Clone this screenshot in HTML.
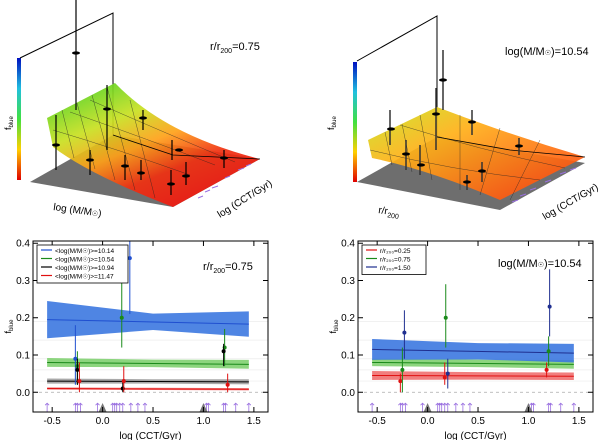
<!DOCTYPE html>
<html><head><meta charset="utf-8">
<style>
body{margin:0;background:#fff;font-family:"Liberation Sans",sans-serif}
svg{display:block}
text{font-family:"Liberation Sans",sans-serif;fill:#000}
</style></head><body>
<svg id="fig" width="600" height="440" viewBox="0 0 600 440">
<defs>
<linearGradient id="cbar" x1="0" y1="1" x2="0" y2="0">
<stop offset="0" stop-color="#e00000"/><stop offset="0.25" stop-color="#ffd000"/><stop offset="0.5" stop-color="#40e040"/><stop offset="0.75" stop-color="#20c0e0"/><stop offset="1" stop-color="#0010c0"/></linearGradient>
<linearGradient id="surf1" x1="0.1" y1="0" x2="0.8" y2="1">
<stop offset="0" stop-color="#40d020"/><stop offset="0.3" stop-color="#c8e020"/><stop offset="0.5" stop-color="#ffa018"/><stop offset="0.7" stop-color="#f03010"/><stop offset="1" stop-color="#f01010"/></linearGradient>
<linearGradient id="surf2" x1="0" y1="0" x2="0.9" y2="0.8">
<stop offset="0" stop-color="#c8e820"/><stop offset="0.4" stop-color="#ffb018"/><stop offset="1" stop-color="#ff5010"/></linearGradient>
</defs>

<!-- 3D panel left -->
<g>
<polygon points="30,182 113,135 260,159 173,207" fill="#6e6e6e"/>
<rect x="17" y="58" width="4" height="122" fill="url(#cbar)"/>
<polyline points="20,58 113,13 113,135" fill="none" stroke="#000" stroke-width="1"/>
<path d="M47,118 L115,83 Q165,135 260,159 L173,207 Q90,175 53,147 Z" fill="url(#surf1)" opacity="0.92"/>
<g stroke="#222" stroke-width="0.5" opacity="0.7">
<line x1="62" y1="110" x2="74" y2="158"/><line x1="77" y1="103" x2="95" y2="169"/><line x1="92" y1="95" x2="115" y2="180"/><line x1="107" y1="87" x2="135" y2="190"/><line x1="130" y1="100" x2="155" y2="198"/>
<path d="M53,130 Q120,150 190,175" fill="none"/><path d="M70,112 Q150,140 215,165" fill="none"/><path d="M90,100 Q170,135 235,162" fill="none"/>
</g>
<polyline points="113,135 173,155 260,159" fill="none" stroke="#000" stroke-width="0.8"/>
<g stroke="#9a70e0" stroke-width="1"><line x1="198" y1="198" x2="203" y2="196"/><line x1="205" y1="192" x2="210" y2="190"/><line x1="212" y1="188" x2="218" y2="186"/><line x1="225" y1="178" x2="230" y2="176"/><line x1="238" y1="170" x2="244" y2="168"/><line x1="246" y1="166" x2="251" y2="164"/></g>
<g stroke="#000" stroke-width="1.2">
<line x1="76" y1="0" x2="76" y2="110"/><line x1="56" y1="115" x2="56" y2="170"/><line x1="107" y1="85" x2="107" y2="150"/><line x1="143" y1="110" x2="143" y2="130"/><line x1="90" y1="150" x2="90" y2="175"/><line x1="125" y1="155" x2="125" y2="180"/><line x1="141" y1="160" x2="141" y2="180"/><line x1="172" y1="140" x2="172" y2="160"/><line x1="171" y1="170" x2="171" y2="195"/><line x1="186" y1="162" x2="186" y2="185"/><line x1="224" y1="150" x2="224" y2="168"/>
</g>
<g fill="#000"><ellipse cx="76" cy="53" rx="4" ry="1.6"/><ellipse cx="56" cy="145" rx="4" ry="1.6"/><ellipse cx="107" cy="109" rx="4" ry="1.6"/><ellipse cx="143" cy="118" rx="4" ry="1.6"/><ellipse cx="90" cy="160" rx="4" ry="1.6"/><ellipse cx="125" cy="166" rx="4" ry="1.6"/><ellipse cx="141" cy="173" rx="4" ry="1.6"/><ellipse cx="179" cy="150" rx="4" ry="1.6"/><ellipse cx="171" cy="184" rx="4" ry="1.6"/><ellipse cx="186" cy="176" rx="4" ry="1.6"/><ellipse cx="224" cy="158" rx="4" ry="1.6"/></g>
<text x="11" y="130" font-size="9" transform="rotate(-90 11 130)">f<tspan font-size="6" dy="2">blue</tspan></text>
<text x="53" y="210" font-size="10" transform="rotate(8 53 210)">log (M/M<tspan font-size="7">☉</tspan>)</text>
<text x="220" y="218" font-size="10" transform="rotate(-32 220 218)">log (CCT/Gyr)</text>
<text x="210" y="50" font-size="11">r/r<tspan font-size="7" dy="3">200</tspan><tspan dy="-3">=0.75</tspan></text>
</g>

<!-- 3D panel right -->
<g>
<polygon points="357,182 437,137 585,163 500,210" fill="#6e6e6e"/>
<rect x="353" y="62" width="4" height="120" fill="url(#cbar)"/>
<polyline points="357,61 437,16 437,137" fill="none" stroke="#000" stroke-width="1"/>
<path d="M368,140 L437,107 Q510,135 585,157 L500,200 Q430,170 372,158 Z" fill="url(#surf2)" opacity="0.92"/>
<g stroke="#222" stroke-width="0.5" opacity="0.7">
<line x1="385" y1="132" x2="392" y2="165"/><line x1="402" y1="124" x2="412" y2="172"/><line x1="420" y1="115" x2="432" y2="180"/><line x1="460" y1="115" x2="460" y2="190"/><line x1="500" y1="128" x2="480" y2="195"/><line x1="540" y1="140" x2="510" y2="200"/>
<path d="M370,150 Q450,170 540,180" fill="none"/><path d="M400,125 Q480,150 565,168" fill="none"/>
</g>
<polyline points="437,137 510,150 585,157" fill="none" stroke="#000" stroke-width="0.8"/>
<g stroke="#9a70e0" stroke-width="1"><line x1="512" y1="202" x2="518" y2="200"/><line x1="520" y1="196" x2="526" y2="194"/><line x1="530" y1="190" x2="536" y2="188"/><line x1="545" y1="182" x2="551" y2="180"/><line x1="560" y1="174" x2="566" y2="172"/><line x1="570" y1="170" x2="576" y2="168"/></g>
<g stroke="#333" stroke-width="1.5">
<line x1="390" y1="110" x2="390" y2="145"/><line x1="406" y1="140" x2="406" y2="170"/><line x1="420" y1="145" x2="420" y2="175"/><line x1="436" y1="88" x2="436" y2="150"/><line x1="443" y1="50" x2="443" y2="110"/><line x1="472" y1="110" x2="472" y2="135"/><line x1="467" y1="175" x2="467" y2="190"/><line x1="482" y1="162" x2="482" y2="182"/><line x1="519" y1="138" x2="519" y2="155"/>
</g>
<g fill="#000"><ellipse cx="391" cy="129" rx="4" ry="1.6"/><ellipse cx="406" cy="154" rx="4" ry="1.6"/><ellipse cx="421" cy="165" rx="4" ry="1.6"/><ellipse cx="436" cy="114" rx="4" ry="1.6"/><ellipse cx="443" cy="80" rx="4" ry="1.6"/><ellipse cx="472" cy="122" rx="4" ry="1.6"/><ellipse cx="467" cy="182" rx="4" ry="1.6"/><ellipse cx="482" cy="171" rx="4" ry="1.6"/><ellipse cx="519" cy="146" rx="4" ry="1.6"/></g>
<text x="334" y="130" font-size="9" transform="rotate(-90 334 130)">f<tspan font-size="6" dy="2">blue</tspan></text>
<text x="378" y="213" font-size="10" transform="rotate(8 378 213)">r/r<tspan font-size="7" dy="3">200</tspan></text>
<text x="545" y="220" font-size="10" transform="rotate(-30 545 220)">log (CCT/Gyr)</text>
<text x="505" y="55" font-size="11">log(M/M<tspan font-size="7">☉</tspan>)=10.54</text>
</g>

<g id="p1"></g>
<g id="p2"></g>
</svg>
<script>
// Shared data
const xTicks=[-0.5,0.0,0.5,1.0,1.5];
const yTicks=[0.0,0.1,0.2,0.3,0.4];
const arrowX=[-0.55,-0.27,-0.25,-0.22,-0.05,0.1,0.12,0.14,0.17,0.2,0.28,0.35,0.42,1.03,1.05,1.2,1.22,1.32,1.45];
const triX=[0.0,1.0];
// Left panel (mass bins)
const lNames=["<log(M/M☉)>=10.14","<log(M/M☉)>=10.54","<log(M/M☉)>=10.94","<log(M/M☉)>=11.47"];
const lColors=["#1f4fd0","#1a8a1a","#000000","#e01010"];
const lBand=["#3c78e0","#80d070","#a0a0a0","#f07070"];
const lLineStart=[0.195,0.08,0.03,0.01];
const lLineEnd=[0.183,0.075,0.028,0.008];
const lBandHalfStart=[0.05,0.012,0.007,0.003];
const lBandHalfMid=[0.022,0.01,0.006,0.003];
const lBandHalfEnd=[0.034,0.012,0.007,0.003];
const lPtX=[[-0.27,0.27],[-0.25,0.19,1.21],[-0.25,0.2,1.2],[-0.23,0.21,1.24]];
const lPtY=[[0.09,0.36],[0.07,0.2,0.12],[0.06,0.01,0.11],[0.03,0.03,0.02]];
const lPtLo=[[0.02,0.21],[0.02,0.12,0.07],[0.02,0.0,0.07],[0.0,0.0,0.0]];
const lPtHi=[[0.18,0.45],[0.11,0.3,0.17],[0.09,0.03,0.13],[0.08,0.07,0.05]];
// Right panel (radius bins)
const rNames=["r/r₂₀₀=0.25","r/r₂₀₀=0.75","r/r₂₀₀=1.50"];
const rColors=["#e01010","#1a8a1a","#1f2f90"];
const rBand=["#f07070","#80d070","#3c78e0"];
const rLineStart=[0.045,0.08,0.115];
const rLineEnd=[0.043,0.075,0.105];
const rBandHalfStart=[0.012,0.01,0.028];
const rBandHalfMid=[0.01,0.01,0.022];
const rBandHalfEnd=[0.01,0.012,0.025];
const rPtX=[[-0.27,0.17,1.18],[-0.25,0.18,1.2],[-0.23,0.2,1.21]];
const rPtY=[[0.03,0.04,0.06],[0.06,0.2,0.11],[0.16,0.05,0.23]];
const rPtLo=[[0.0,0.02,0.04],[0.0,0.12,0.07],[0.09,0.01,0.15]];
const rPtHi=[[0.05,0.08,0.08],[0.12,0.29,0.15],[0.22,0.09,0.33]];

const NS="http://www.w3.org/2000/svg";
function mk(parent,tag,attrs){const e=document.createElementNS(NS,tag);for(const k in attrs)e.setAttribute(k,attrs[k]);parent.appendChild(e);return e;}

function panel(g,L,R,names,colors,bands,ls,le,bs,bm,be,px,py,plo,phi,annot,legW){
  const T=241,B=412,xmin=-0.69,xmax=1.64,ymin=-0.053,ymax=0.406;
  const sx=v=>L+(v-xmin)/(xmax-xmin)*(R-L);
  const sy=v=>B-(v-ymin)/(ymax-ymin)*(B-T);
  for(const v of [0.03,0.06,0.09,0.14,0.19]){mk(g,'line',{x1:L,x2:R,y1:sy(v),y2:sy(v),stroke:'#ececec','stroke-width':0.7});}
  const z=mk(g,'line',{x1:L,x2:R,y1:sy(0),y2:sy(0),stroke:'#aaa','stroke-dasharray':'3,3','stroke-width':0.7});
  
  
  const xa=-0.55,xb=1.45,xm=0.5;
  for(let i=0;i<names.length;i++){
    const c0=ls[i],c1=le[i],cm=(c0+c1)/2;
    const pts=[[xa,c0+bs[i]],[xm,cm+bm[i]],[xb,c1+be[i]],[xb,c1-be[i]],[xm,cm-bm[i]],[xa,c0-bs[i]]];
    const band=mk(g,'polygon',{points:pts.map(p=>sx(p[0])+','+sy(p[1])).join(' '),fill:bands[i],opacity:0.9});
    
    
    const ln=mk(g,'line',{x1:sx(xa),y1:sy(c0),x2:sx(xb),y2:sy(c1),stroke:colors[i],'stroke-width':1});
    
    
  }
  for(let i=0;i<names.length;i++){
    for(let j=0;j<px[i].length;j++){
      const x=sx(px[i][j]);
      const eb=mk(g,'line',{x1:x,x2:x,y1:Math.max(T,sy(phi[i][j])),y2:sy(plo[i][j]),stroke:colors[i],'stroke-width':1});
      
      
      const p=mk(g,'circle',{cx:x,cy:sy(py[i][j]),r:2,fill:colors[i]});
      
      
    }
  }
  for(const a of arrowX){const x=sx(a),y=sy(-0.04);
    const ar=mk(g,'path',{d:`M${x},${y+5} L${x},${y-4} M${x-2},${y-2} L${x},${y-4} L${x+2},${y-2}`,stroke:'#9a70e0',fill:'none','stroke-width':0.8});
    
    }
  for(const t of triX){const x=sx(t),y=B;
    const tr=mk(g,'polygon',{points:`${x-4},${y} ${x+4},${y} ${x},${y-9}`,fill:'#777'});
    
    }
  const fr=mk(g,'rect',{x:L,y:T,width:R-L,height:B-T,fill:'none',stroke:'#000','stroke-width':1});
  
  
  for(const v of xTicks){const x=sx(v);
    mk(g,'line',{x1:x,x2:x,y1:B,y2:B-5,stroke:'#000'});mk(g,'line',{x1:x,x2:x,y1:T,y2:T+5,stroke:'#000'});
    const t=mk(g,'text',{x:x,y:B+12,'font-size':10,'text-anchor':'middle'});t.textContent=v.toFixed(1);
    
    }
  for(const v of yTicks){const y=sy(v);
    mk(g,'line',{x1:L,x2:L+5,y1:y,y2:y,stroke:'#000'});mk(g,'line',{x1:R,x2:R-5,y1:y,y2:y,stroke:'#000'});
    const t=mk(g,'text',{x:L-3,y:y+3.5,'font-size':10,'text-anchor':'end'});t.textContent=v.toFixed(1);
    
    }
  const xt=mk(g,'text',{x:(L+R)/2,y:B+27,'font-size':10,'text-anchor':'middle'});xt.textContent='log (CCT/Gyr)';
  
  
  const yt=mk(g,'text',{x:L-22,y:(T+B)/2,'font-size':9,'text-anchor':'middle',transform:`rotate(-90 ${L-22} ${(T+B)/2})`});
  yt.innerHTML='f<tspan font-size="6" dy="2">blue</tspan>';
  
  
  const lg=mk(g,'g',{});
  
  
  mk(lg,'rect',{x:L+4,y:T+4,width:legW,height:names.length*8.5+4,fill:'#fff',stroke:'#000','stroke-width':0.8});
  for(let i=0;i<names.length;i++){const y=T+11+i*8.5;
    mk(lg,'line',{x1:L+8,x2:L+19,y1:y-2,y2:y-2,stroke:colors[i],'stroke-width':1.2});
    const t=mk(lg,'text',{x:L+22,y:y+1,'font-size':6.5});t.textContent=names[i];
    
    }
  const an=mk(g,'text',{x:annot[0],y:annot[1],'font-size':11});an.innerHTML=annot[2];
  
  
}
panel(document.getElementById('p1'),33,268,lNames,lColors,lBand,lLineStart,lLineEnd,lBandHalfStart,lBandHalfMid,lBandHalfEnd,lPtX,lPtY,lPtLo,lPtHi,[203,270,'r/r<tspan font-size="7" dy="3">200</tspan><tspan dy="-3">=0.75</tspan>'],91);
panel(document.getElementById('p2'),358,593,rNames,rColors,rBand,rLineStart,rLineEnd,rBandHalfStart,rBandHalfMid,rBandHalfEnd,rPtX,rPtY,rPtLo,rPtHi,[498,267,'log(M/M<tspan font-size="7">☉</tspan>)=10.54'],64);
</script>
</body></html>
